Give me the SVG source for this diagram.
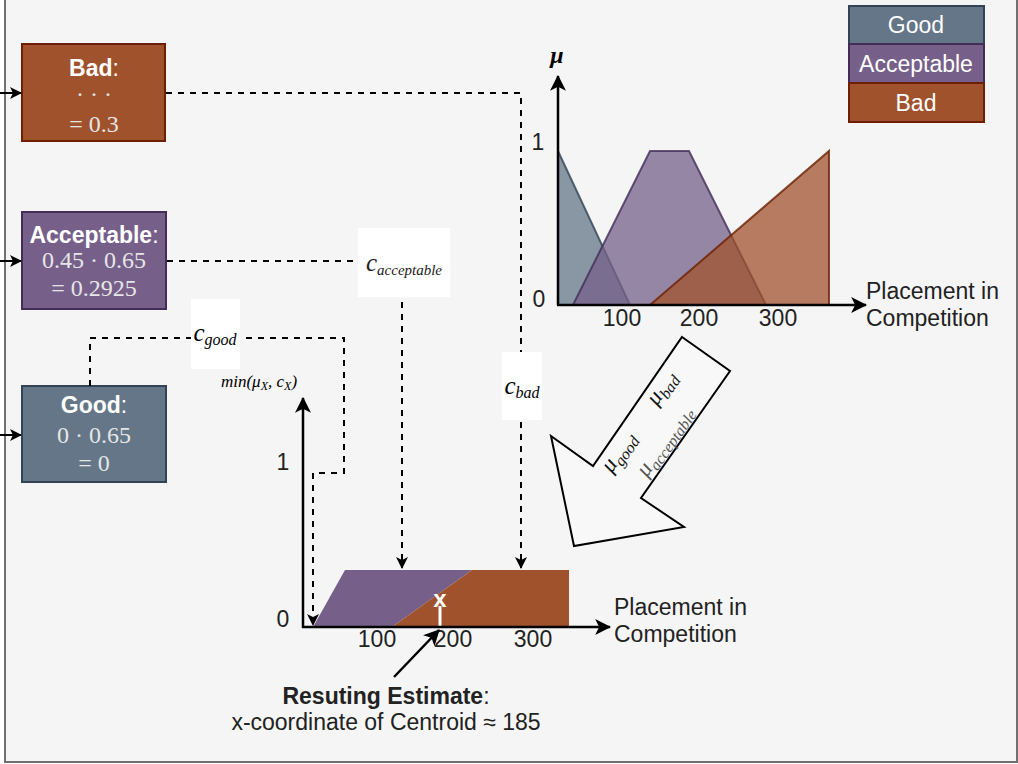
<svg xmlns="http://www.w3.org/2000/svg" width="1018" height="764" viewBox="0 0 1018 764">
  <defs>
    <marker id="arrow" viewBox="0 0 12 12" refX="11" refY="6" markerWidth="12" markerHeight="12" markerUnits="userSpaceOnUse" orient="auto">
      <path d="M0,0 L12,6 L0,12 L3,6 z" fill="#000"/>
    </marker>
    <marker id="arrowBig" viewBox="0 0 14 14" refX="13" refY="7" markerWidth="16" markerHeight="16" markerUnits="userSpaceOnUse" orient="auto">
      <path d="M0,0 L14,7 L0,14 L3.5,7 z" fill="#000"/>
    </marker>
  </defs>
  <style>
    .sans { font-family: "Liberation Sans", Arial, sans-serif; }
    .math { font-family: "Liberation Serif", "DejaVu Serif", serif; }
    .it { font-style: italic; }
    .title { font-family: "Liberation Sans", Arial, sans-serif; font-size: 23px; fill: #fff; text-anchor: middle; }
    .val { font-family: "Liberation Serif", "DejaVu Serif", serif; font-size: 24px; fill: #e6e6e6; text-anchor: middle; }
    .lbl { font-family: "Liberation Sans", Arial, sans-serif; font-size: 23px; fill: #222; }
    .axis { stroke: #000; stroke-width: 2.5; fill: none; }
    .dash { stroke: #000; stroke-width: 2; stroke-dasharray: 6 6; fill: none; }
    .good { fill: #647687; stroke: #314354; }
    .acc { fill: #76608a; stroke: #432d57; }
    .bad { fill: #a0522d; stroke: #6d1f00; }
    .tag { fill: #fff; }
  </style>

  <!-- canvas -->
  <rect x="5" y="-10" width="1012" height="772" fill="#f5f5f5" stroke="#707070" stroke-width="2"/>

  <!-- legend -->
  <g id="legend">
    <rect class="good" x="849" y="6" width="135" height="38" stroke-width="2"/>
    <text class="title" x="916" y="33">Good</text>
    <rect class="acc" x="849" y="44" width="135" height="39" stroke-width="2"/>
    <text class="title" x="916" y="72">Acceptable</text>
    <rect class="bad" x="849" y="83" width="135" height="39" stroke-width="2"/>
    <text class="title" x="916" y="111">Bad</text>
  </g>

  <!-- rule nodes -->
  <g id="node-bad">
    <rect class="bad" x="22" y="44" width="143" height="97" stroke-width="2"/>
    <text class="title" x="94" y="76"><tspan font-weight="bold">Bad</tspan>:</text>
    <text class="val" x="94" y="102">· · ·</text>
    <text class="val" x="94" y="132">= 0.3</text>
  </g>
  <g id="node-acceptable">
    <rect class="acc" x="22" y="212" width="144" height="97" stroke-width="2"/>
    <text class="title" x="94" y="243"><tspan font-weight="bold">Acceptable</tspan>:</text>
    <text class="val" x="94" y="268">0.45 · 0.65</text>
    <text class="val" x="94" y="296">= 0.2925</text>
  </g>
  <g id="node-good">
    <rect class="good" x="22" y="386" width="144" height="96" stroke-width="2"/>
    <text class="title" x="94" y="413"><tspan font-weight="bold">Good</tspan>:</text>
    <text class="val" x="94" y="443">0 · 0.65</text>
    <text class="val" x="94" y="471" fill="#fff">= 0</text>
  </g>

  <!-- membership functions -->
  <g id="membership-chart">
    <polygon class="good" points="558,151 630,305 558,305" fill-opacity="0.75" stroke-opacity="0.8" stroke-width="2"/>
    <polygon class="acc" points="573,305 650,151 689,151 766,305" fill-opacity="0.75" stroke-opacity="0.8" stroke-width="2"/>
    <polygon class="bad" points="650,305 829,151 829,305" fill-opacity="0.75" stroke-opacity="0.8" stroke-width="2"/>
    <line class="axis" x1="558" y1="305" x2="558" y2="76" marker-end="url(#arrowBig)"/>
    <line class="axis" x1="557" y1="305" x2="866" y2="305" marker-end="url(#arrowBig)"/>
    <text class="math it" x="557" y="63" font-size="24" font-weight="bold" text-anchor="middle">μ</text>
    <text class="lbl" x="538" y="150" text-anchor="middle">1</text>
    <text class="lbl" x="539" y="307" text-anchor="middle">0</text>
    <text class="lbl" x="622" y="326" text-anchor="middle">100</text>
    <text class="lbl" x="699" y="326" text-anchor="middle">200</text>
    <text class="lbl" x="778" y="326" text-anchor="middle">300</text>
    <text class="lbl" x="866" y="299" fill="#333">Placement in</text>
    <text class="lbl" x="866" y="326" fill="#333">Competition</text>
  </g>

  <!-- block arrow carrying the memberships -->
  <g id="membership-arrow">
    <polygon points="682,337 730,371 641,498 684,527 574,546 551,436 593,466" fill="#f8f8f8" stroke="#000" stroke-width="2"/>
    <g class="math it" font-size="23" fill="#111">
      <text transform="translate(667,392) rotate(-55)" text-anchor="middle">μ<tspan font-size="16" dy="5">bad</tspan></text>
      <text transform="translate(624,456) rotate(-55)" text-anchor="middle">μ<tspan font-size="16" dy="5">good</tspan></text>
      <text transform="translate(670,445) rotate(-55)" text-anchor="middle" fill="#555">μ<tspan font-size="16" dy="5">acceptable</tspan></text>
    </g>
  </g>

  <!-- aggregated output -->
  <g id="output-chart">
    <polygon points="313,627 345,570 472,570 392,627" fill="#76608a"/>
    <polygon points="392,627 472,570 569,570 569,627" fill="#a0522d"/>
    <line x1="440" y1="606" x2="440" y2="627" stroke="#fff" stroke-width="3"/>
    <text class="sans" x="440" y="607" font-size="24" font-weight="bold" fill="#fff" text-anchor="middle">x</text>
    <line class="axis" x1="303" y1="628" x2="303" y2="398" marker-end="url(#arrowBig)"/>
    <line class="axis" x1="302" y1="627" x2="610" y2="627" marker-end="url(#arrowBig)"/>
    <text class="math it" x="259" y="387" font-size="17" text-anchor="middle">min(μ<tspan font-size="12" dy="3">X</tspan><tspan dy="-3">, c</tspan><tspan font-size="12" dy="3">X</tspan><tspan dy="-3">)</tspan></text>
    <text class="lbl" x="283" y="470" text-anchor="middle">1</text>
    <text class="lbl" x="283" y="627" text-anchor="middle">0</text>
    <text class="lbl" x="377" y="647" text-anchor="middle">100</text>
    <text class="lbl" x="453" y="647" text-anchor="middle">200</text>
    <text class="lbl" x="533" y="647" text-anchor="middle">300</text>
    <text class="lbl" x="614" y="615" fill="#333">Placement in</text>
    <text class="lbl" x="614" y="642" fill="#333">Competition</text>
  </g>

  <g id="estimate">
    <text class="lbl" x="386" y="704" text-anchor="middle" fill="#222"><tspan font-weight="bold">Resuting Estimate</tspan>:</text>
    <text class="lbl" x="386" y="730" text-anchor="middle" fill="#333">x-coordinate of Centroid ≈ 185</text>
  </g>

  <!-- connectors -->
  <g id="connectors">
    <line x1="0" y1="93" x2="21" y2="93" stroke="#000" stroke-width="2" marker-end="url(#arrow)"/>
    <line x1="0" y1="261" x2="21" y2="261" stroke="#000" stroke-width="2" marker-end="url(#arrow)"/>
    <line x1="0" y1="435" x2="21" y2="435" stroke="#000" stroke-width="2" marker-end="url(#arrow)"/>
    <polyline class="dash" points="166,93 521,93 521,568" marker-end="url(#arrow)"/>
    <polyline class="dash" points="167,261 402,261 402,568" marker-end="url(#arrow)"/>
    <polyline class="dash" points="90,386 90,338 344,338 344,473 313,473 313,625" marker-end="url(#arrow)"/>
    <line x1="394" y1="677" x2="439" y2="630" stroke="#000" stroke-width="2.5" marker-end="url(#arrowBig)"/>
  </g>

  <!-- connector labels -->
  <g id="label-c-good">
    <rect class="tag" x="191" y="299" width="49" height="70"/>
    <text class="math it" x="215" y="341" font-size="25" text-anchor="middle">c<tspan font-size="16" dy="4">good</tspan></text>
  </g>
  <g id="label-c-acceptable">
    <rect class="tag" x="358" y="228" width="92" height="69"/>
    <text class="math it" x="404" y="271" font-size="25" text-anchor="middle" fill="#222">c<tspan font-size="15" dy="4">acceptable</tspan></text>
  </g>
  <g id="label-c-bad">
    <rect class="tag" x="502" y="352" width="40" height="68"/>
    <text class="math it" x="522" y="394" font-size="25" text-anchor="middle">c<tspan font-size="16" dy="4">bad</tspan></text>
  </g>
</svg>
